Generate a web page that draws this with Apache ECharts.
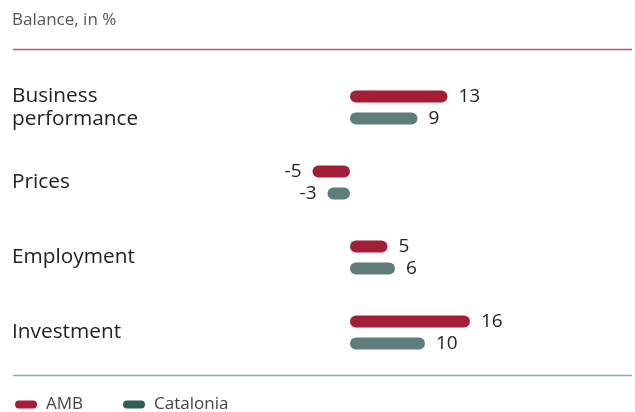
<!DOCTYPE html>
<html>
<head>
<meta charset="utf-8">
<script src="https://cdn.jsdelivr.net/npm/echarts@6/dist/echarts.min.js"></script>
<style>
  html, body { margin: 0; padding: 0; background: #fff; }
  #chart { width: 635px; height: 412px; }
</style>
</head>
<body>
<div id="chart"></div>
<script>
const categories = ['Business\nperformance', 'Prices', 'Employment', 'Investment'];
const seriesNames = ['AMB', 'Catalonia'];
const ambValues = [13, -5, 5, 16];
const cataloniaValues = [9, -3, 6, 10];

const barColors = ['#a51e37', '#5f7d7a'];
const legendColors = ['#a51e37', '#2e5f59'];
const FONT = '"Open Sans", "Noto Sans", sans-serif';

// Positive values get their label after the bar end, negative ones before it.
function withLabels(values) {
  return values.map(v => ({
    value: v,
    label: { position: v < 0 ? 'left' : 'right' }
  }));
}

const capsule = 'path://M4,0 H18 A4,4 0 0 1 18,8 H4 A4,4 0 0 1 4,0 Z';

const chart = echarts.init(document.getElementById('chart'), null, { renderer: 'canvas' });

chart.setOption({
  animation: false,
  backgroundColor: '#ffffff',
  textStyle: { fontFamily: FONT },
  graphic: [
    {
      type: 'text', left: 12, top: 12,
      style: { text: 'Balance, in %', fill: '#555', font: '17px ' + FONT }
    },
    {
      type: 'line',
      shape: { x1: 13, y1: 49.5, x2: 632, y2: 49.5 },
      style: { stroke: '#c4506a', lineWidth: 1.5 }
    },
    {
      type: 'line',
      shape: { x1: 13, y1: 375.5, x2: 632, y2: 375.5 },
      style: { stroke: '#8fadaa', lineWidth: 1.5 }
    }
  ],
  legend: {
    left: 15, top: 396, padding: 0,
    itemWidth: 22, itemHeight: 8, itemGap: 40,
    icon: capsule,
    textStyle: { color: '#444', fontSize: 17, fontFamily: FONT, padding: [0, 0, 0, 4] },
    data: seriesNames.map((n, i) => ({ name: n, itemStyle: { color: legendColors[i] } }))
  },
  grid: { left: 200, right: 135, top: 70, bottom: 412 - 370 },
  xAxis: {
    type: 'value', min: -20, max: 20,
    show: false
  },
  yAxis: {
    type: 'category',
    data: categories,
    inverse: true,
    axisLine: { show: false },
    axisTick: { show: false },
    splitLine: { show: false },
    axisLabel: {
      align: 'left',
      margin: 188,
      color: '#222',
      fontSize: 20.8,
      lineHeight: 23,
      fontFamily: FONT
    }
  },
  series: [ambValues, cataloniaValues].map((vals, i) => ({
    name: seriesNames[i],
    type: 'bar',
    data: withLabels(vals),
    barWidth: 12,
    barGap: '85%',
    itemStyle: { color: barColors[i], borderRadius: 6 },
    label: {
      show: true,
      distance: 11,
      color: '#222',
      fontSize: 19,
      fontFamily: FONT
    }
  }))
});
</script>
</body>
</html>
